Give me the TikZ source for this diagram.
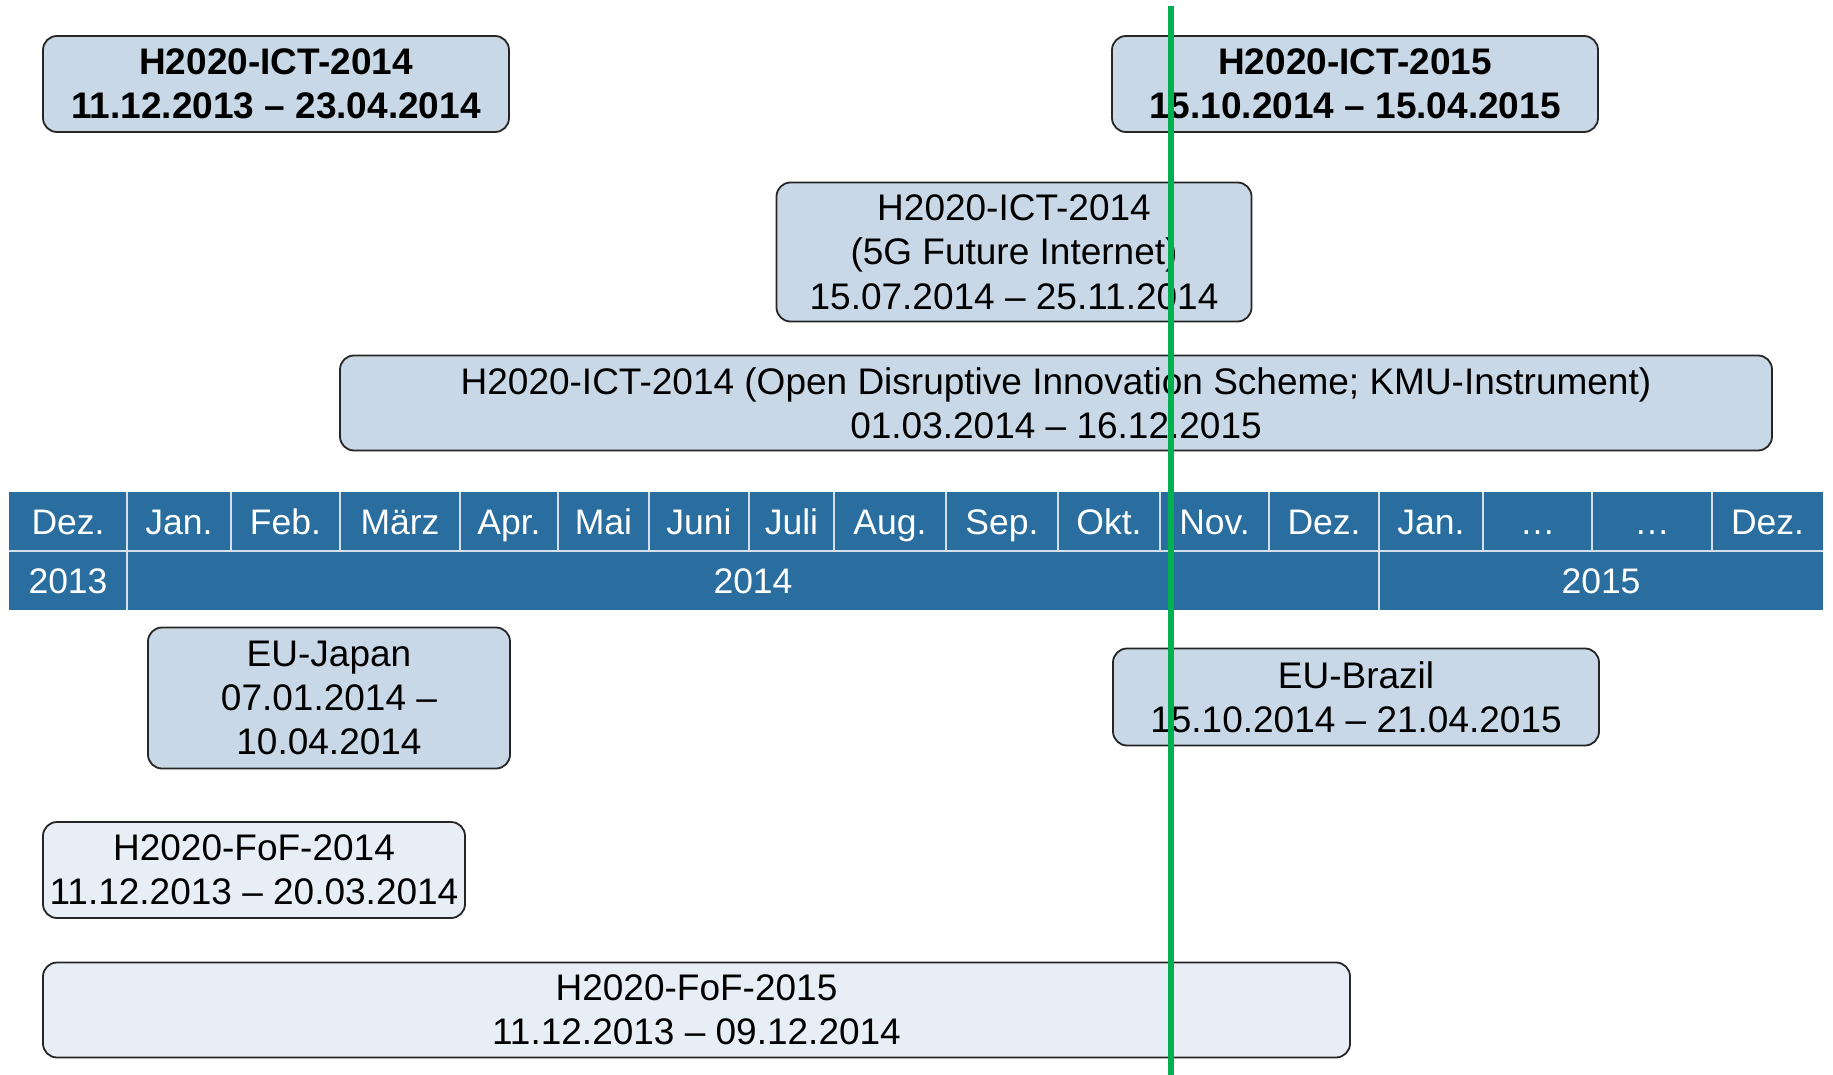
\documentclass[tikz,border=0pt]{standalone}
\usepackage{fontspec}
\setmainfont{Liberation Sans}
\definecolor{callbox}{RGB}{200,216,230}
\definecolor{foffill}{RGB}{232,238,246}
\definecolor{barblue}{RGB}{42,110,160}
\definecolor{barline}{RGB}{214,224,236}
\definecolor{nowgreen}{RGB}{0,176,80}

\begin{document}
\begin{tikzpicture}[x=1pt,y=-1pt,
    call/.style={draw=black!85,line width=1.8pt,rounded corners=14pt,fill=callbox,
      align=center,inner sep=0pt,font=\fontsize{37}{44.4}\selectfont},
    fof/.style={call,fill=foffill},
    month/.style={anchor=base,text=white,font=\fontsize{35.5}{40}\selectfont}]
  \useasboundingbox (0,0) rectangle (1833,1075);

  % calls above the time bar
  \node[call,minimum width=466pt,minimum height=96pt] (ict14) at (276,84)
    {\bfseries H2020-ICT-2014\\ \bfseries 11.12.2013 – 23.04.2014};
  \node[call,minimum width=486pt,minimum height=96pt] (ict15) at (1355,84)
    {\bfseries H2020-ICT-2015\\ \bfseries 15.10.2014 – 15.04.2015};
  \node[call,minimum width=475pt,minimum height=139pt] (fiveg) at (1014,252)
    {H2020-ICT-2014\\ (5G Future Internet)\\ 15.07.2014 – 25.11.2014};
  \node[call,minimum width=1432pt,minimum height=95pt] (odis) at (1056,403)
    {H2020-ICT-2014 (Open Disruptive Innovation Scheme; KMU-Instrument)\\ 01.03.2014 – 16.12.2015};

  % time bar
  \fill[barblue] (9,492) rectangle (1823,610);
  \draw[barline,line width=1.5pt] (9,551) -- (1823,551);
  \draw[barline,line width=1.5pt] (127,492) -- (127,610);
  \draw[barline,line width=1.5pt] (231,492) -- (231,551);
  \draw[barline,line width=1.5pt] (340,492) -- (340,551);
  \draw[barline,line width=1.5pt] (460,492) -- (460,551);
  \draw[barline,line width=1.5pt] (558,492) -- (558,551);
  \draw[barline,line width=1.5pt] (649,492) -- (649,551);
  \draw[barline,line width=1.5pt] (749,492) -- (749,551);
  \draw[barline,line width=1.5pt] (834,492) -- (834,551);
  \draw[barline,line width=1.5pt] (946,492) -- (946,551);
  \draw[barline,line width=1.5pt] (1058,492) -- (1058,551);
  \draw[barline,line width=1.5pt] (1160,492) -- (1160,551);
  \draw[barline,line width=1.5pt] (1269,492) -- (1269,551);
  \draw[barline,line width=1.5pt] (1379,492) -- (1379,610);
  \draw[barline,line width=1.5pt] (1483,492) -- (1483,551);
  \draw[barline,line width=1.5pt] (1592,492) -- (1592,551);
  \draw[barline,line width=1.5pt] (1712,492) -- (1712,551);

  \node[month] (dez13) at (68,534) {Dez.};
  \node[month] (jan14) at (179,534) {Jan.};
  \node[month] (feb14) at (285.5,534) {Feb.};
  \node[month] (mar14) at (400,534) {März};
  \node[month] (apr14) at (509,534) {Apr.};
  \node[month] (mai14) at (603.5,534) {Mai};
  \node[month] (jun14) at (699,534) {Juni};
  \node[month] (jul14) at (791.5,534) {Juli};
  \node[month] (aug14) at (890,534) {Aug.};
  \node[month] (sep14) at (1002,534) {Sep.};
  \node[month] (okt14) at (1109,534) {Okt.};
  \node[month] (nov14) at (1214.5,534) {Nov.};
  \node[month] (dez14) at (1324,534) {Dez.};
  \node[month] (jan15) at (1431,534) {Jan.};
  \node[month] (dotsa) at (1537.5,534) {…};
  \node[month] (dotsb) at (1652,534) {…};
  \node[month] (dez15) at (1767.5,534) {Dez.};

  \node[month] (y2013) at (68,593) {2013};
  \node[month] (y2014) at (753,593) {2014};
  \node[month] (y2015) at (1601,593) {2015};

  % calls below the time bar
  \node[call,minimum width=362pt,minimum height=141pt] (japan) at (329,698)
    {EU-Japan\\ 07.01.2014 –\\ 10.04.2014};
  \node[call,minimum width=486pt,minimum height=97pt] (brazil) at (1356,697)
    {EU-Brazil\\ 15.10.2014 – 21.04.2015};
  \node[fof,minimum width=422pt,minimum height=96pt] (fof14) at (254,870)
    {H2020-FoF-2014\\ 11.12.2013 – 20.03.2014};
  \node[fof,minimum width=1307pt,minimum height=95pt] (fof15) at (696.5,1010)
    {H2020-FoF-2015\\ 11.12.2013 – 09.12.2014};

  % today
  \draw[nowgreen,line width=6pt] (1171,6) -- (1171,1075);
\end{tikzpicture}
\end{document}
